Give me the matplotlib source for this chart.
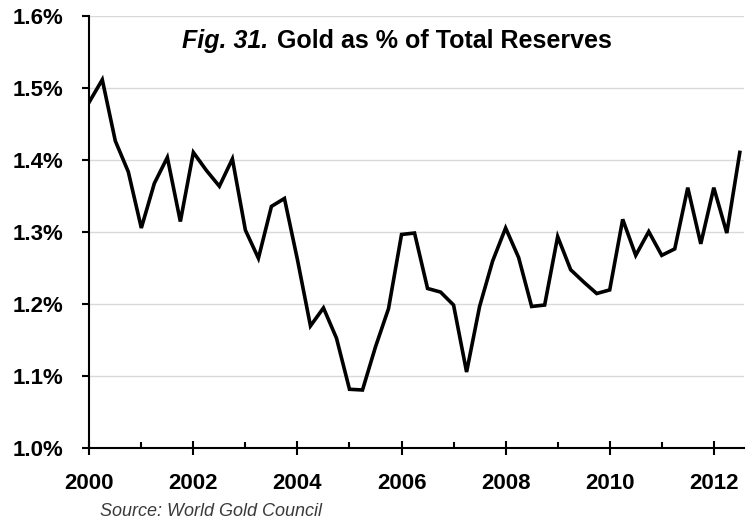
import matplotlib
matplotlib.use("Agg")
import matplotlib.pyplot as plt
from matplotlib.ticker import MultipleLocator, FuncFormatter
import numpy as np

# Quarterly data, 2000 Q1 .. 2012 Q3
start_year = 2000.0
gold_pct = [1.481, 1.512, 1.427, 1.384, 1.306, 1.368, 1.404, 1.315,
            1.411, 1.386, 1.364, 1.402, 1.303, 1.264, 1.336, 1.347,
            1.262, 1.170, 1.195, 1.153, 1.082, 1.081, 1.141, 1.194,
            1.297, 1.299, 1.222, 1.217, 1.199, 1.106, 1.197, 1.260,
            1.306, 1.265, 1.197, 1.199, 1.294, 1.248, 1.231, 1.215,
            1.220, 1.318, 1.268, 1.301, 1.268, 1.277, 1.362, 1.284,
            1.362, 1.299, 1.411]
x_years = [start_year + 0.25 * i for i in range(len(gold_pct))]

y_ticks = [1.0, 1.1, 1.2, 1.3, 1.4, 1.5, 1.6]
x_tick_labels = [2000, 2002, 2004, 2006, 2008, 2010, 2012]

title_italic = "Fig. 31."
title_rest = "Gold as % of Total Reserves"
source_text = "Source: World Gold Council"

fam = ['Liberation Sans', 'DejaVu Sans']
plt.rcParams['font.family'] = fam

fig = plt.figure(figsize=(7.54, 5.23), dpi=100)
ax = fig.add_axes([0.1184, 0.1428, 0.9867 - 0.1184, 0.9688 - 0.1428])

ax.plot(x_years, gold_pct, color='black', lw=2.6, solid_joinstyle='miter', zorder=3)

ax.set_xlim(2000, 2012.58)
ax.set_ylim(1.0, 1.6)
ax.set_yticks(y_ticks)
ax.yaxis.set_major_formatter(FuncFormatter(lambda v, p: f"{v:.1f}%"))
ax.set_xticks(x_tick_labels)
ax.set_xticklabels([str(v) for v in x_tick_labels])
ax.xaxis.set_minor_locator(MultipleLocator(1))

ax.grid(axis='y', color='#d9d9d9', lw=1.0, zorder=0)
ax.set_axisbelow(True)
for s in ['top', 'right']:
    ax.spines[s].set_visible(False)
for s in ['left', 'bottom']:
    ax.spines[s].set_linewidth(1.5)
    ax.spines[s].set_color('black')

ax.tick_params(axis='y', which='major', direction='out', length=5, width=1.5,
               pad=13.5, labelsize=16)
ax.tick_params(axis='x', which='major', direction='inout', length=9.5, width=1.5,
               pad=13, labelsize=16)
ax.tick_params(axis='x', which='minor', direction='in', length=4.5, width=1.5)
for lab in ax.get_xticklabels() + ax.get_yticklabels():
    lab.set_fontweight('bold')

# Title (two parts: italic bold + bold)
title_y = 1 - 41 / 523
t1 = fig.text(181.5 / 754, title_y, title_italic, fontsize=18, fontweight='bold',
              fontstyle='italic', ha='left', va='center')
fig.canvas.draw()
bb = t1.get_window_extent()
x2 = (bb.x1 + 9) / fig.bbox.width
fig.text(x2, title_y, title_rest, fontsize=18, fontweight='bold',
         ha='left', va='center')

fig.text(100 / 754, 1 - 511 / 523, source_text, fontsize=13, fontstyle='italic',
         color='#3a3a3a', ha='left', va='center',
         family=['Liberation Sans Narrow', 'Liberation Sans', 'DejaVu Sans'])

fig.savefig('out.png', dpi=100)
